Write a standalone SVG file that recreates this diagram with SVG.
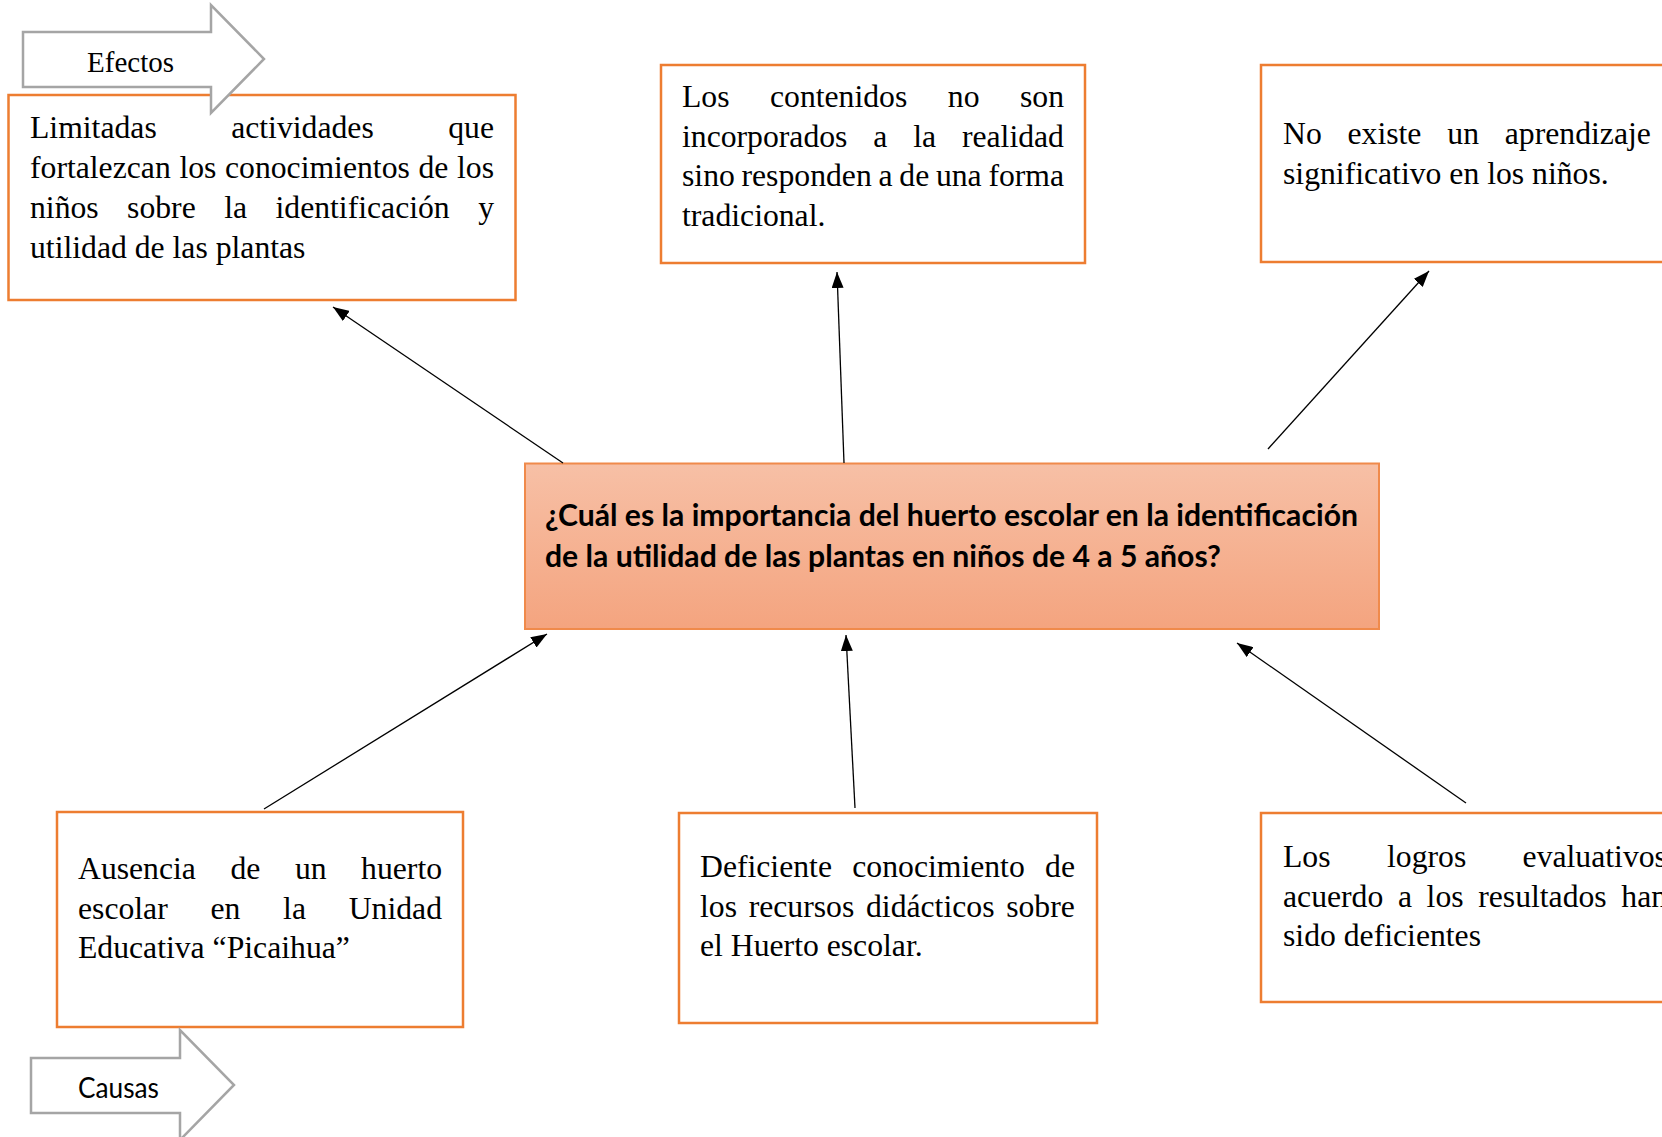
<svg xmlns="http://www.w3.org/2000/svg" width="1662" height="1137" viewBox="0 0 1662 1137">
<style>
.box{fill:#fff;stroke:#ED7D31;stroke-width:2.5}
.t{font-family:"Liberation Serif","Times New Roman",serif;font-size:31.7px;fill:#000}
.ga{fill:#fff;stroke:#A5A5A5;stroke-width:2.5;stroke-linejoin:miter}
.c{stroke:#000;stroke-width:1.3;fill:none;marker-end:url(#ah)}
.q{font-family:Lato,"Open Sans",sans-serif;font-weight:bold;font-size:29.5px;fill:#000}
</style>
<defs>
<marker id="ah" viewBox="0 0 16 12" refX="16" refY="6" markerWidth="16" markerHeight="12" markerUnits="userSpaceOnUse" orient="auto">
<path d="M0,0 L16,6 L0,12 z" fill="#000"/>
</marker>
<linearGradient id="cg" x1="0" y1="0" x2="0" y2="1">
<stop offset="0" stop-color="#F7C0A6"/>
<stop offset="1" stop-color="#F4A47F"/>
</linearGradient>
</defs>
<rect width="1662" height="1137" fill="#fff"/>

<g id="efecto1">
<rect class="box" x="8.5" y="95" width="507" height="205"/>
<text class="t"><tspan x="30" y="138">Limitadas</tspan><tspan x="231.2" y="138">actividades</tspan><tspan x="448.2" y="138">que</tspan></text>
<text class="t"><tspan x="30" y="178">fortalezcan</tspan><tspan x="179.4" y="178">los</tspan><tspan x="225" y="178">conocimientos</tspan><tspan x="418.5" y="178">de</tspan><tspan x="457" y="178">los</tspan></text>
<text class="t"><tspan x="30" y="218">niños</tspan><tspan x="127.1" y="218">sobre</tspan><tspan x="224.2" y="218">la</tspan><tspan x="275.5" y="218">identificación</tspan><tspan x="478.2" y="218">y</tspan></text>
<text class="t" x="30" y="258">utilidad de las plantas</text>
</g>

<g id="efectos-label">
<path class="ga" d="M23,32 H211 V5 L264,59 L211,113 V87 H23 Z"/>
<text class="t" x="87" y="72" style="font-size:29px" textLength="87" lengthAdjust="spacingAndGlyphs">Efectos</text>
</g>

<g id="efecto2">
<rect class="box" x="661" y="65" width="424" height="198"/>
<text class="t"><tspan x="682" y="107">Los</tspan><tspan x="770" y="107">contenidos</tspan><tspan x="947.8" y="107">no</tspan><tspan x="1020" y="107">son</tspan></text>
<text class="t"><tspan x="682" y="146.5">incorporados</tspan><tspan x="873.3" y="146.5">a</tspan><tspan x="913.2" y="146.5">la</tspan><tspan x="961.9" y="146.5">realidad</tspan></text>
<text class="t"><tspan x="682" y="186">sino</tspan><tspan x="741.5" y="186">responden</tspan><tspan x="878.5" y="186">a</tspan><tspan x="899.3" y="186">de</tspan><tspan x="935.9" y="186">una</tspan><tspan x="988.4" y="186">forma</tspan></text>
<text class="t" x="682" y="225.5">tradicional.</text>
</g>

<g id="efecto3">
<rect class="box" x="1261" y="65" width="430" height="197"/>
<text class="t"><tspan x="1283" y="144">No</tspan><tspan x="1347.5" y="144">existe</tspan><tspan x="1447.3" y="144">un</tspan><tspan x="1504.8" y="144">aprendizaje</tspan></text>
<text class="t" x="1283" y="184">significativo en los niños.</text>
</g>

<g id="problema">
<rect x="525" y="463.5" width="854" height="165.5" fill="url(#cg)" stroke="#F08A4B" stroke-width="2"/>
<text class="q" x="545" y="525.5" textLength="813" lengthAdjust="spacingAndGlyphs">¿Cuál es la importancia del huerto escolar en la identificación</text>
<text class="q" x="545" y="566.5" textLength="676" lengthAdjust="spacingAndGlyphs">de la utilidad de las plantas en niños de 4 a 5 años?</text>
</g>

<g id="causa1">
<rect class="box" x="57" y="812" width="406" height="215"/>
<text class="t"><tspan x="78" y="879">Ausencia</tspan><tspan x="230.5" y="879">de</tspan><tspan x="294.9" y="879">un</tspan><tspan x="361.1" y="879">huerto</tspan></text>
<text class="t"><tspan x="78" y="918.5">escolar</tspan><tspan x="210.5" y="918.5">en</tspan><tspan x="283.1" y="918.5">la</tspan><tspan x="348.7" y="918.5">Unidad</tspan></text>
<text class="t" x="78" y="958">Educativa “Picaihua”</text>
</g>

<g id="causa2">
<rect class="box" x="679" y="813" width="418" height="210"/>
<text class="t"><tspan x="700" y="877">Deficiente</tspan><tspan x="852.3" y="877">conocimiento</tspan><tspan x="1045.1" y="877">de</tspan></text>
<text class="t"><tspan x="700" y="916.5">los</tspan><tspan x="748.7" y="916.5">recursos</tspan><tspan x="866" y="916.5">didácticos</tspan><tspan x="1006.2" y="916.5">sobre</tspan></text>
<text class="t" x="700" y="956">el Huerto escolar.</text>
</g>

<g id="causa3">
<rect class="box" x="1261" y="813" width="430" height="189"/>
<text class="t"><tspan x="1283" y="867">Los</tspan><tspan x="1387" y="867">logros</tspan><tspan x="1522.6" y="867">evaluativos</tspan></text>
<text class="t"><tspan x="1283" y="906.5">acuerdo</tspan><tspan x="1397.9" y="906.5">a</tspan><tspan x="1426.6" y="906.5">los</tspan><tspan x="1478.2" y="906.5">resultados</tspan><tspan x="1621.3" y="906.5">han</tspan></text>
<text class="t" x="1283" y="946">sido deficientes</text>
</g>

<g id="causas-label">
<path class="ga" d="M31,1058 H180 V1030 L234,1085 L180,1140 V1113 H31 Z"/>
<text x="78" y="1098" font-family="Lato,'Open Sans',sans-serif" font-size="28" textLength="81" lengthAdjust="spacingAndGlyphs">Causas</text>
</g>

<g id="connectors">
<line class="c" x1="563" y1="463" x2="333" y2="307"/>
<line class="c" x1="844" y1="463" x2="837" y2="272"/>
<line class="c" x1="1268" y1="449" x2="1429" y2="271"/>
<line class="c" x1="264" y1="809" x2="547" y2="634"/>
<line class="c" x1="855" y1="808" x2="846" y2="635"/>
<line class="c" x1="1466" y1="803" x2="1237" y2="643"/>
</g>
</svg>
